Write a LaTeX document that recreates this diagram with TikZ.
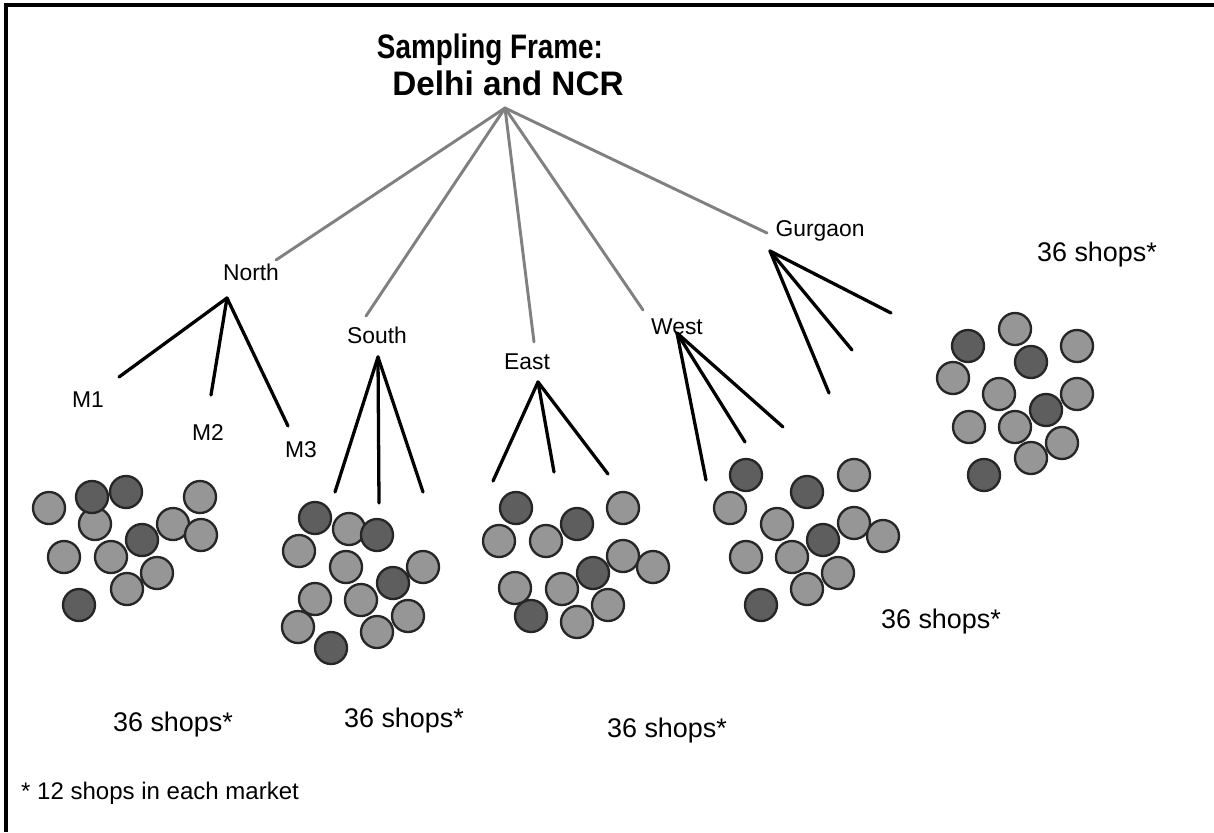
\documentclass[tikz,border=0pt]{standalone}
\usepackage{fontspec}
\setmainfont{Liberation Sans}

\begin{document}
\begin{tikzpicture}[x=0.03cm, y=-0.03cm,
  lbl/.style={font=\fontsize{19.5}{22}\selectfont, inner sep=0pt},
  shops/.style={font=\fontsize{23}{26}\selectfont, inner sep=0pt},
  ttl/.style={font=\bfseries\fontsize{29}{32}\selectfont, inner sep=0pt, anchor=base},
  gline/.style={draw=black!50, line width=2.5pt, line cap=round},
  bline/.style={draw=black, line width=2.8pt, line cap=round},
  lite/.style={fill=black!41, draw=black!85, line width=2pt},
  dark/.style={fill=black!63, draw=black!85, line width=2pt}]
\useasboundingbox (0,0) rectangle (1214,832);
% frame
\draw[line width=2.6pt] (6,832) -- (6,5) -- (1214,5);
% title
\node[ttl] (title1) at (490,58) {\scalebox{0.82}[1]{Sampling Frame:}};
\node[ttl] (title2) at (508,95) {\scalebox{0.98}[1]{Delhi and NCR}};
\coordinate (root) at (505,108);
% regions
\node[lbl] (north) at (251,272) {North};
\node[lbl] (south) at (377,335) {South};
\node[lbl] (east) at (527,362) {East};
\node[lbl] (west) at (677,327) {West};
\node[lbl] (gurgaon) at (820,231) {Gurgaon};
\coordinate (nEnd) at (276,260);
\coordinate (sEnd) at (366,316);
\coordinate (eEnd) at (534,342);
\coordinate (wEnd) at (643,310);
\coordinate (gEnd) at (767,233);
\foreach \e in {nEnd,sEnd,eEnd,wEnd,gEnd}
  \draw[gline] (root) -- (\e);
% markets
\coordinate (nTop) at (227,298);
\coordinate (sTop) at (378,357);
\coordinate (eTop) at (538,382);
\coordinate (wTop) at (677,333);
\coordinate (gTop) at (770,251);
\coordinate (n1) at (119,377);
\coordinate (n2) at (211,395);
\coordinate (n3) at (288,426);
\coordinate (s1) at (335,492);
\coordinate (s2) at (379,503);
\coordinate (s3) at (423,492);
\coordinate (e1) at (493,481);
\coordinate (e2) at (554,472);
\coordinate (e3) at (608,474);
\coordinate (w1) at (706,480);
\coordinate (w2) at (745,442);
\coordinate (w3) at (783,427);
\coordinate (g1) at (829,393);
\coordinate (g2) at (852,350);
\coordinate (g3) at (891,313);
\foreach \t/\e in {nTop/n1,nTop/n2,nTop/n3,sTop/s1,sTop/s2,sTop/s3,
    eTop/e1,eTop/e2,eTop/e3,wTop/w1,wTop/w2,wTop/w3,gTop/g1,gTop/g2,gTop/g3}
  \draw[bline] (\t) -- (\e);
\node[lbl] (m1) at (88,400) {M1};
\node[lbl] (m2) at (208,433) {M2};
\node[lbl] (m3) at (301,450) {M3};
% shops, light
\foreach \x/\y in {49/508,200/497,95/524,173/524,201/535,64/557,111/557,157/573,127/589,
    349/529,299/551,346/567,423/567,315/599,361/600,408/616,298/627,377/632,
    623/508,499/541,546/541,623/556,653/567,515/588,562/589,608/605,577/622,
    854/475,730/508,777/524,854/523,883/536,746/557,792/557,838/573,807/589,
    1015/329,1077/346,953/378,999/394,1077/394,969/427,1015/427,1062/443,1031/458}
  \draw[lite] (\x,\y) circle (16);
% shops, dark
\foreach \x/\y in {92/497,126/492,142/540,79/605,
    315/518,377/535,393/583,331/648,
    516/508,577/524,593/573,531/616,
    746/475,807/492,823/540,761/605,
    968/346,1031/362,1046/410,984/475}
  \draw[dark] (\x,\y) circle (16);
% counts
\node[shops] (shopsG) at (1097,255) {36 shops*};
\node[shops] (shopsW) at (941,622) {36 shops*};
\node[shops] (shopsN) at (173,725) {36 shops*};
\node[shops] (shopsS) at (404,721) {36 shops*};
\node[shops] (shopsE) at (667,731) {36 shops*};
\node[font=\fontsize{20.5}{23}\selectfont, inner sep=0pt, anchor=west] (note) at (21,793) {* 12 shops in each market};
\end{tikzpicture}
\end{document}
